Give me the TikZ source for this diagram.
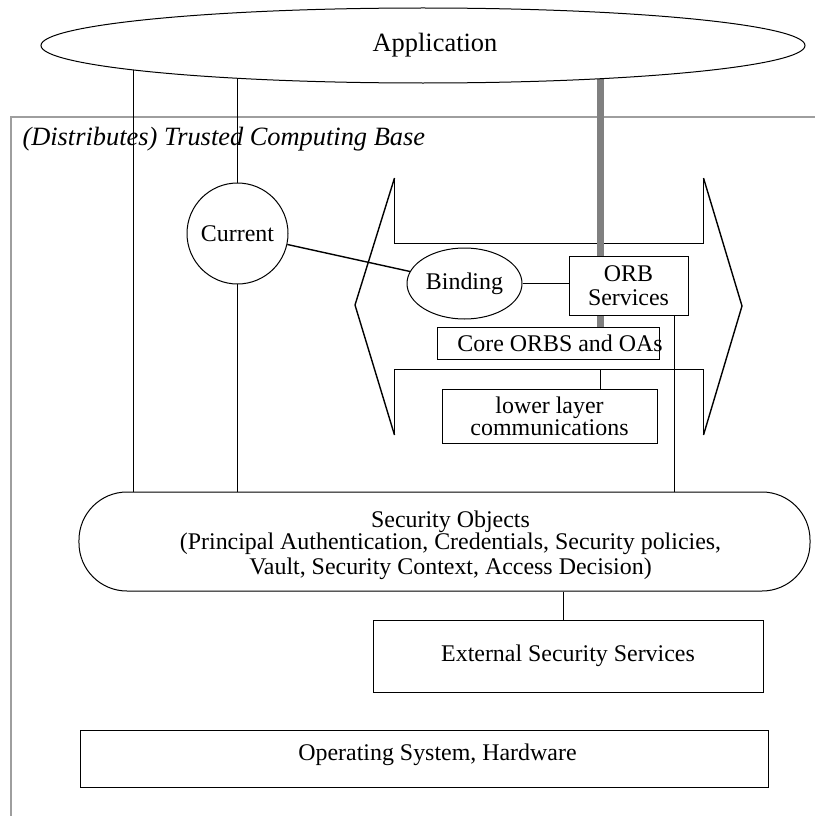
\documentclass[tikz,border=0pt]{standalone}
\usepackage{fontspec}
\setmainfont{Liberation Serif}
\usetikzlibrary{shapes.geometric}
\pgfdeclarelayer{bg}
\pgfsetlayers{bg,main}

\begin{document}
\begin{tikzpicture}[
        x=1bp, y=-1bp,
        line width=1bp,
        txt/.style={font=\fontsize{24}{25}\selectfont},
        big/.style={font=\fontsize{26.5}{28}\selectfont},
        box/.style={
            draw,
            fill=white,
            txt,
            inner sep=0pt,
            align=center
        },
        oval/.style={draw, fill=white, ellipse, txt, inner sep=0pt},
        slant/.style={line width=1.4bp},
        tcb/.style={draw=black!38, line width=1.5bp},
        pipe/.style={draw=black!50, line width=7bp}
    ]
        \useasboundingbox (0,0) rectangle (815,816);

        \node[oval, minimum width=764bp, minimum height=75bp,
            label={[big, xshift=12bp]center:Application}] (app) at (423,45.5) {};
        \node[font=\fontsize{26.5}{28}\selectfont\itshape, anchor=west, inner sep=0pt] (tcbtitle) at (22,139)
            {(Distributes) Trusted Computing Base};

        \node[draw, fill=white, circle, txt, inner sep=0pt, minimum size=101bp] (cur) at (237.5,233.5) {Current};
        \node[oval, minimum width=115bp, minimum height=71bp] (bind) at (464.5,283.5) {Binding};
        \node[box, minimum width=119bp, minimum height=59bp] (orb) at (628.5,285.5) {ORB\\[-1pt]Services};
        \node[box, minimum width=222bp, minimum height=32bp,
            label={[txt, xshift=12bp]center:Core ORBS and OAs}] (core) at (548,343) {};
        \node[box, minimum width=215bp, minimum height=54bp] (low) at (549.5,416) {lower layer\\[-3pt]communications};

        \node[box, rounded corners=48bp, minimum width=731bp, minimum height=99bp,
            label={[txt, align=center, xshift=6bp, yshift=-4bp]center:Security Objects\\[-3pt]
             (Principal Authentication, Credentials, Security policies,\\
             Vault, Security Context, Access Decision)}] (sec) at (444.5,541.5) {};
        \node[box, minimum width=390bp, minimum height=72bp] (ext) at (568,656) {External Security Services};
        \node[box, minimum width=687bp, minimum height=57bp,
            label={[txt, xshift=13bp, yshift=4bp]center:Operating System, Hardware}] (os) at (424.5,758.5) {};

        \begin{pgfonlayer}{bg}
            % ORB frame
            \draw (394.5,178) -- (394.5,243.5) -- (703.5,243.5) -- (703.5,178);
            \draw (394.5,435) -- (394.5,369.5) -- (703.5,369.5) -- (703.5,435);
            \draw[slant] (394.5,178) -- (355,305) -- (394.5,435);
            \draw[slant] (703.5,178) -- (742,306) -- (703.5,435);
            \draw[tcb] (815,117) -- (11,117) -- (11,816);
            \foreach \x in {133.5,237.5}
                \draw (app.center -| \x,0) -- (sec.center -| \x,0);
            \draw[pipe] (app.center -| 600,0) -- (core.north -| 600,0);
        \end{pgfonlayer}

        \coordinate (brk) at (600.5,369.5);
        \draw[slant] (cur) -- (bind);
        \draw (bind.east) -- (bind.east -| orb.west);
        \draw (brk) -- (brk |- low.north);
        \draw (orb.south -| 674.5,0) -- (sec.north -| 674.5,0);
        \draw (sec.south -| 563.5,0) -- (ext.north -| 563.5,0);
    \end{tikzpicture}
\end{document}
